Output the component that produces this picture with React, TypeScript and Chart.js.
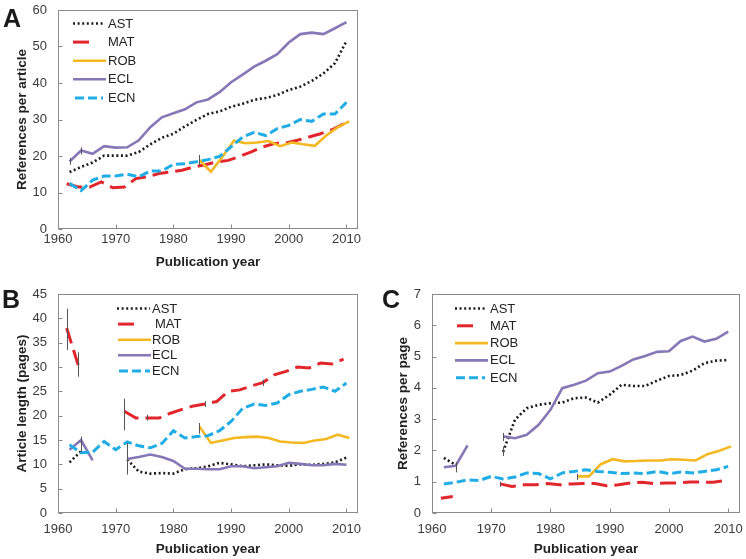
import React, { useEffect, useRef } from "react";
import { Chart, registerables } from "chart.js";
Chart.register(...registerables);

// ---------------- DATA ----------------
const YEARS = [1962, 1964, 1966, 1968, 1970, 1972, 1974, 1976, 1978, 1980, 1982, 1984, 1986, 1988, 1990, 1992, 1994, 1996, 1998, 2000, 2002, 2004, 2006, 2008, 2010];
const MAT_YEARS = [1961.5, 1963.5, 1965.5, 1967.5, 1969.5, 1971.5, 1973.5, 1975.5, 1977.5, 1979.5, 1981.5, 1983.5, 1985.5, 1987.5, 1989.5, 1991.5, 1993.5, 1995.5, 1997.5, 1999.5, 2001.5, 2003.5, 2005.5, 2007.5, 2009.5];
const ROB_YEARS = [1984.5, 1986.5, 1988.5, 1990.5, 1992.5, 1994.5, 1996.5, 1998.5, 2000.5, 2002.5, 2004.5, 2006.5, 2008.5, 2010.5];
const SERIES_NAMES = ["AST", "MAT", "ROB", "ECL", "ECN"];
const X_TITLE = "Publication year";

// Panel A: references per article
const A_AST = [15.6, 17, 18.2, 20.1, 20.1, 20.1, 21.1, 23.2, 25, 26.1, 28.1, 29.9, 31.5, 32.2, 33.5, 34.3, 35.4, 35.9, 36.7, 38.1, 39, 40.6, 42.6, 45.4, 51.5];
const A_MAT = [12.4, 11.5, 11.5, 12.9, 11.3, 11.5, 13.8, 14.3, 15.2, 15.6, 16.1, 17, 17.6, 18.4, 18.8, 19.9, 21.1, 22.5, 23.4, 23.6, 24.3, 25.2, 26.1, 27.2, 28.8];
const A_ROB = [18.9, 15.7, 19.8, 24.2, 23.5, 23.7, 24.1, 22.7, 23.7, 23.2, 22.8, 25.6, 27.9, 29.5];
const A_ECL = [18.5, 21.5, 20.6, 22.7, 22.3, 22.4, 24.3, 27.9, 30.6, 31.7, 32.8, 34.7, 35.5, 37.5, 40.2, 42.3, 44.5, 46.1, 47.9, 51.1, 53.4, 53.8, 53.4, 55, 56.7];
const A_ECN = [12.5, 10.5, 13.4, 14.5, 14.5, 15, 14.3, 15.9, 15.9, 17.7, 17.9, 18.4, 19, 19.9, 22.5, 25.2, 26.5, 25.6, 27.5, 28.4, 30, 29.5, 31.5, 31.5, 34.7];
const A_ERR_X = [1984.5, 1962, 1964];
const A_ERR_LO = [17.3, 17.6, 20.4];
const A_ERR_HI = [20.3, 19.4, 22.4];

// Panel B: article length (pages)
const B_AST = [10.4, 12.7, null, null, null, 11, 8.5, 8.1, 8.2, 8.1, 9, 9.2, 9.6, 10.3, 10, 9.6, 9.8, 10, 9.8, 9.7, 10, 9.9, 10.1, 10.4, 11.4];
const B_MAT = [38, 30.4, null, null, null, 20.9, 19.5, 19.5, 19.5, 20.5, 21.3, 22, 22.4, 22.9, 25, 25.3, 26.1, 26.8, 28.4, 29.1, 30, 29.8, 30.8, 30.6, 31.6];
const B_ROB = [17.8, 14.4, 14.9, 15.4, 15.6, 15.7, 15.4, 14.7, 14.5, 14.4, 14.9, 15.2, 16.1, 15.4];
const B_ECL = [13, 15, 10.8, null, null, 11.1, 11.5, 12, 11.5, 10.7, 9.1, 9.1, 9, 9, 9.6, 9.6, 9.2, 9.4, 9.6, 10.3, 10.1, 9.8, 9.8, 10.1, 9.9];
const B_ECN = [14, 12.4, 12.5, 14.7, 13, 14.6, 13.8, 13.4, 14.3, 16.9, 15.4, 15.7, 15.9, 16.9, 18.8, 21.5, 22.4, 22.1, 22.6, 24.3, 25, 25.4, 25.9, 25, 26.7];
const B_ERR_X = [1961.5, 1963.5, 1971.5, 1972, 1984.5, 1964, 1985.5, 1995.5, 1975.5];
const B_ERR_LO = [33.5, 28, 17, 7.9, 16.3, 12.6, 21.8, 26.1, 19];
const B_ERR_HI = [42, 33, 23.5, 14.4, 18.5, 15.7, 23, 27.4, 20.2];

// Panel C: references per page
const C_AST = [1.76, 1.54, null, null, null, 1.95, 2.98, 3.35, 3.46, 3.51, 3.53, 3.67, 3.69, 3.53, 3.78, 4.1, 4.06, 4.06, 4.23, 4.38, 4.41, 4.55, 4.79, 4.87, 4.89];
const C_MAT = [0.47, 0.53, null, null, null, 0.93, 0.85, 0.9, 0.9, 0.94, 0.9, 0.93, 0.94, 0.94, 0.87, 0.9, 0.96, 0.98, 0.94, 0.96, 0.96, 0.99, 0.99, 0.98, 1.04];
const C_ROB = [1.17, 1.17, 1.56, 1.72, 1.65, 1.66, 1.68, 1.68, 1.72, 1.7, 1.68, 1.88, 1.99, 2.13];
const C_ECL = [1.46, 1.51, 2.16, null, null, 2.45, 2.39, 2.5, 2.82, 3.3, 3.99, 4.1, 4.23, 4.47, 4.52, 4.7, 4.91, 5.02, 5.15, 5.17, 5.5, 5.64, 5.48, 5.57, 5.8];
const C_ECN = [0.93, 0.98, 1.06, 1.04, 1.17, 1.09, 1.15, 1.28, 1.26, 1.09, 1.28, 1.33, 1.38, 1.33, 1.3, 1.26, 1.28, 1.26, 1.33, 1.26, 1.31, 1.28, 1.33, 1.38, 1.49];
const C_ERR_X = [1964, 1972, 1972, 1971.5, 1984.5];
const C_ERR_LO = [1.3, 1.82, 2.3, 0.84, 1.06];
const C_ERR_HI = [1.62, 2.12, 2.56, 1.0, 1.25];

// ---------------- STYLE ----------------
const COLORS = ["#1c1c1c", "#e1262c", "#f4b822", "#8677b6", "#20ade6"];
const DASHES = [[2, 2.6], [16, 7], [], [], [9, 4]];
const WIDTHS = [2.6, 3, 2.6, 2.6, 3];
const FONT = '"Liberation Sans", Arial, Helvetica, sans-serif';

Chart.defaults.font.family = FONT;

type Panel = {
  letter: string;
  yTitle: string;
  yMax: number;
  yStep: number;
  series: (number | null)[][];
  errX: number[];
  errLo: number[];
  errHi: number[];
  left: number;
  top: number;
  width: number;
  height: number;
  pad: { left: number; right: number; top: number };
  yW: number;
  xH: number;
  xTickPad: number;
  xTitlePad: number;
  legend: { dy: number; gap: number; textDx: number; starts: number[]; ends: number[] };
  letterPos: { left: number; top: number };
};

const PANELS: Panel[] = [
  {
    letter: "A", yTitle: "References per article", yMax: 60, yStep: 10,
    series: [A_AST, A_MAT, A_ROB, A_ECL, A_ECN],
    errX: A_ERR_X, errLo: A_ERR_LO, errHi: A_ERR_HI,
    left: 0, top: 0, width: 373, height: 270,
    pad: { left: 14, right: 15, top: 10 }, yW: 44, xH: 41, xTickPad: 3, xTitlePad: 0,
    legend: { dy: 13.5, gap: 18.6, textDx: 50, starts: [15, 15, 15, 15, 17], ends: [45, 36, 48, 48, 45] },
    letterPos: { left: 3, top: 6 },
  },
  {
    letter: "B", yTitle: "Article length (pages)", yMax: 45, yStep: 5,
    series: [B_AST, B_MAT, B_ROB, B_ECL, B_ECN],
    errX: B_ERR_X, errLo: B_ERR_LO, errHi: B_ERR_HI,
    left: 0, top: 270, width: 373, height: 289,
    pad: { left: 14, right: 15, top: 24 }, yW: 44, xH: 46, xTickPad: 9, xTitlePad: 2,
    legend: { dy: 14.5, gap: 15.6, textDx: 94, starts: [59, 60, 60, 60, 61], ends: [92, 82, 93, 93, 92] },
    letterPos: { left: 2, top: 287 },
  },
  {
    letter: "C", yTitle: "References per page", yMax: 7, yStep: 1,
    series: [C_AST, C_MAT, C_ROB, C_ECL, C_ECN],
    errX: C_ERR_X, errLo: C_ERR_LO, errHi: C_ERR_HI,
    left: 373, top: 270, width: 373, height: 289,
    pad: { left: 22, right: 6, top: 24 }, yW: 37, xH: 46, xTickPad: 9, xTitlePad: 2,
    legend: { dy: 14.5, gap: 17.3, textDx: 58, starts: [23, 25, 23, 23, 24], ends: [53, 45, 56, 56, 53] },
    letterPos: { left: 382, top: 287 },
  },
];

function xsFor(i: number) {
  if (i === 1) return MAT_YEARS;
  if (i === 2) return ROB_YEARS;
  return YEARS;
}

function makePlugins(p: Panel) {
  const frame = {
    id: "frame" + p.letter,
    afterDraw(chart: any) {
      const { ctx, chartArea: a, scales } = chart;
      ctx.save();
      ctx.strokeStyle = "#8a8a8a";
      ctx.lineWidth = 1;
      const L = Math.round(a.left) + 0.5, R = Math.round(a.right) - 0.5;
      const T = Math.round(a.top) + 0.5, B = Math.round(a.bottom) - 0.5;
      ctx.strokeRect(L, T, R - L, B - T);
      ctx.beginPath();
      scales.x.ticks.forEach((t: any) => {
        const px = Math.round(scales.x.getPixelForValue(t.value)) + 0.5;
        ctx.moveTo(px, B);
        ctx.lineTo(px, B - 4);
      });
      scales.y.ticks.forEach((t: any) => {
        const py = Math.round(scales.y.getPixelForValue(t.value)) + 0.5;
        ctx.moveTo(L, py);
        ctx.lineTo(L + 4, py);
      });
      ctx.stroke();
      ctx.restore();
    },
  };
  const errs = {
    id: "errs" + p.letter,
    afterDatasetsDraw(chart: any) {
      const { ctx, scales } = chart;
      ctx.save();
      ctx.strokeStyle = "#555";
      ctx.lineWidth = 1;
      ctx.beginPath();
      p.errX.forEach((x, i) => {
        const px = Math.round(scales.x.getPixelForValue(x)) + 0.5;
        ctx.moveTo(px, scales.y.getPixelForValue(p.errLo[i]));
        ctx.lineTo(px, scales.y.getPixelForValue(p.errHi[i]));
      });
      ctx.stroke();
      ctx.restore();
    },
  };
  const legend = {
    id: "leg" + p.letter,
    afterDraw(chart: any) {
      const { ctx, chartArea: a } = chart;
      const lg = p.legend;
      ctx.save();
      SERIES_NAMES.forEach((name, i) => {
        const y = a.top + lg.dy + i * lg.gap;
        ctx.beginPath();
        ctx.strokeStyle = COLORS[i];
        ctx.lineWidth = WIDTHS[i];
        ctx.setLineDash(DASHES[i]);
        ctx.moveTo(a.left + lg.starts[i], y);
        ctx.lineTo(a.left + lg.ends[i], y);
        ctx.stroke();
        ctx.setLineDash([]);
        ctx.fillStyle = "#222";
        ctx.font = "13px " + FONT;
        ctx.textBaseline = "middle";
        ctx.textAlign = "left";
        ctx.fillText(name, a.left + lg.textDx + (i === 1 && p.letter === "B" ? 3 : 0), y + 0.5);
      });
      ctx.restore();
    },
  };
  return [frame, errs, legend];
}

function PanelChart({ p }: { p: Panel }) {
  const ref = useRef<HTMLCanvasElement>(null);
  useEffect(() => {
    if (!ref.current) return;
    const datasets = p.series.map((vals, i) => ({
      label: SERIES_NAMES[i],
      data: vals.map((v, j) => ({ x: xsFor(i)[j], y: v })),
      borderColor: COLORS[i],
      backgroundColor: COLORS[i],
      borderWidth: WIDTHS[i],
      borderDash: DASHES[i],
      borderCapStyle: "butt" as const,
      pointRadius: 0,
      tension: 0,
      spanGaps: false,
      order: 5 - i,
    }));
    const chart = new Chart(ref.current, {
      type: "line",
      data: { datasets },
      options: {
        animation: false,
        responsive: false,
        maintainAspectRatio: false,
        layout: { padding: { left: p.pad.left, right: p.pad.right, top: p.pad.top, bottom: 0 } },
        plugins: { legend: { display: false }, tooltip: { enabled: false } },
        scales: {
          x: {
            type: "linear",
            min: 1960,
            max: 2012,
            afterFit: (s: any) => {
              s.height = p.xH;
              s.paddingLeft = 0;
              s.paddingRight = 0;
            },
            grid: { display: false, drawTicks: false },
            border: { display: false },
            ticks: {
              stepSize: 10,
              includeBounds: false,
              padding: p.xTickPad,
              color: "#3a3a3a",
              font: { size: 13 },
              maxRotation: 0,
              autoSkip: false,
              callback: (v: any) => String(v),
            },
            title: {
              display: true,
              text: X_TITLE,
              color: "#222",
              font: { size: 13.5, weight: "bold" },
              padding: { top: 0, bottom: p.xTitlePad },
            },
          },
          y: {
            type: "linear",
            min: 0,
            max: p.yMax,
            afterFit: (s: any) => {
              s.width = p.yW;
              s.paddingTop = 0;
              s.paddingBottom = 0;
            },
            grid: { display: false, drawTicks: false },
            border: { display: false },
            ticks: {
              stepSize: p.yStep,
              padding: 11,
              color: "#3a3a3a",
              font: { size: 13 },
              callback: (v: any) => String(v),
            },
            title: {
              display: true,
              text: p.yTitle,
              color: "#222",
              font: { size: 13.5, weight: "bold" },
              padding: { top: 0, bottom: 0 },
            },
          },
        },
      } as any,
      plugins: makePlugins(p) as any,
    });
    return () => chart.destroy();
  }, [p]);
  return (
    <canvas
      ref={ref}
      width={p.width}
      height={p.height}
      style={{ position: "absolute", left: p.left, top: p.top, width: p.width, height: p.height }}
    />
  );
}

export default function App() {
  return (
    <div style={{ position: "fixed", left: 0, top: 0, width: 746, height: 559, background: "#fff", overflow: "hidden" }}>
      {PANELS.map((p) => (
        <PanelChart key={p.letter} p={p} />
      ))}
      {PANELS.map((p) => (
        <div
          key={"L" + p.letter}
          style={{
            position: "absolute",
            left: p.letterPos.left,
            top: p.letterPos.top,
            fontFamily: FONT,
            fontWeight: "bold",
            fontSize: 25,
            lineHeight: "25px",
            color: "#1a1a1a",
          }}
        >
          {p.letter}
        </div>
      ))}
    </div>
  );
}
